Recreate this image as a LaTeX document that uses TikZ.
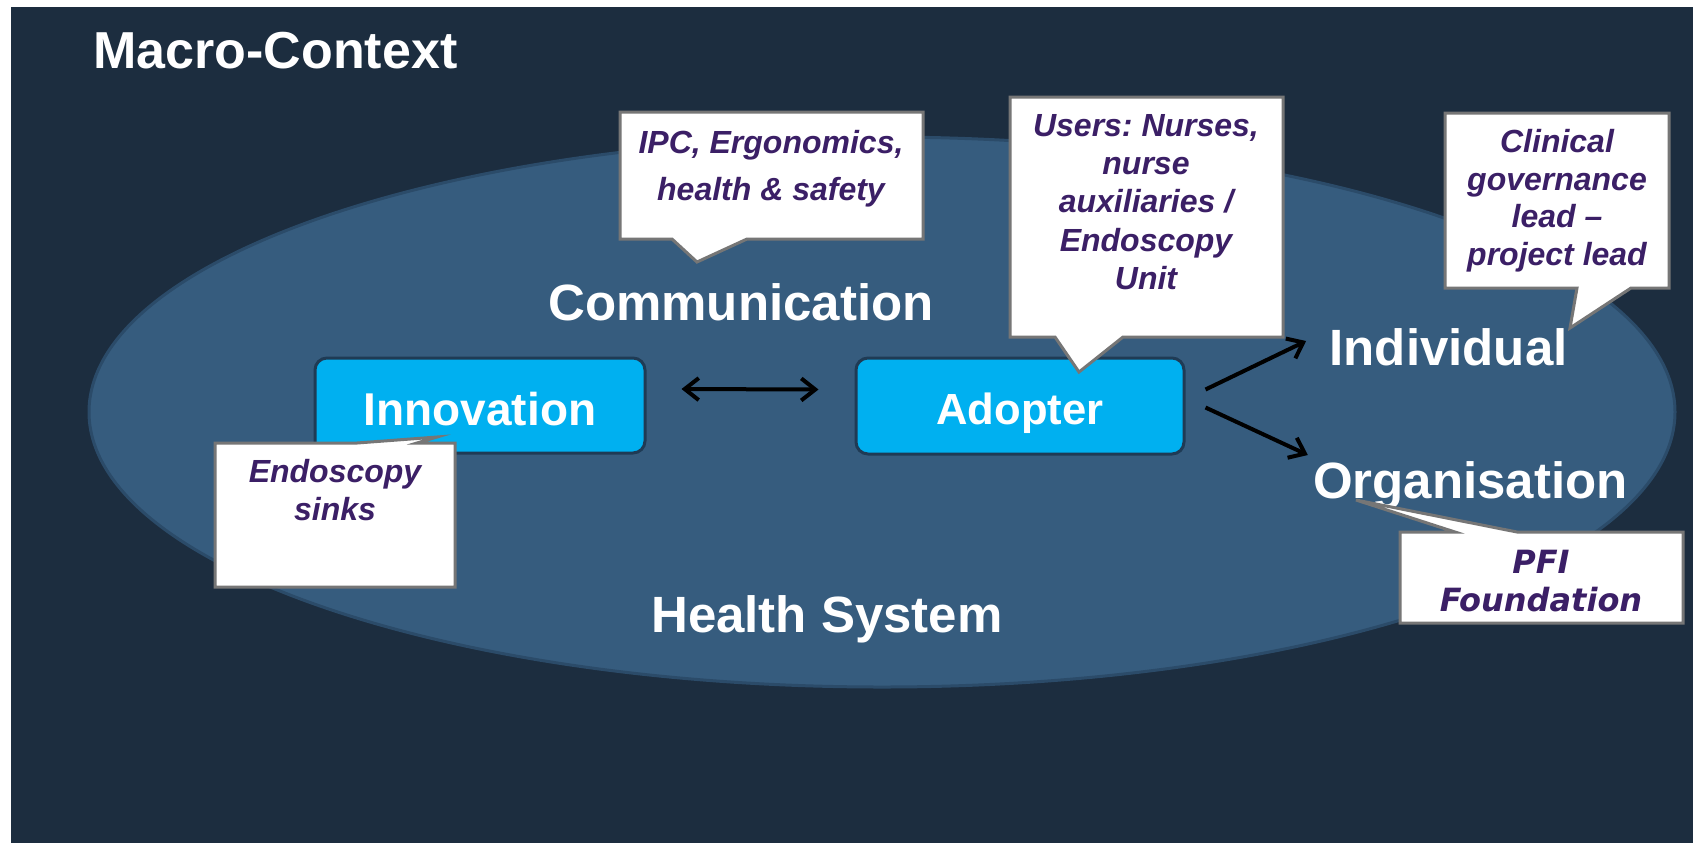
\documentclass[tikz,border=0pt]{standalone}
\usepackage{fontspec}
\setmainfont{Liberation Sans}
\newfontfamily\dejavu{DejaVu Sans}
\usetikzlibrary{arrows.meta}
\frenchspacing
\definecolor{bgdark}{HTML}{1C2D3F}
\definecolor{ellfill}{HTML}{365C7E}
\definecolor{ellrim}{HTML}{2B4B69}
\definecolor{cyanbox}{HTML}{00B0F0}
\definecolor{boxrim}{HTML}{1F3B55}
\definecolor{calltext}{HTML}{3B1F66}
\definecolor{callrim}{HTML}{767676}
\begin{document}
\begin{tikzpicture}[x=0.5pt,y=-0.5pt,
  biglabel/.style={text=white, font=\fontsize{25.5pt}{30pt}\selectfont\bfseries, inner sep=0pt, anchor=base},
  agentbox/.style={draw=boxrim, line width=1.5pt, fill=cyanbox, rounded corners=6pt, minimum width=165pt, minimum height=47.5pt, text=white, inner sep=0pt, text depth=0pt},
  calloutbox/.style={draw=callrim, fill=white, line width=1.5pt, line join=miter},
  callouttext/.style={text=calltext, font=\fontsize{16pt}{19.1pt}\selectfont\bfseries\itshape, align=center, inner sep=0pt, anchor=north},
  arrline/.style={line width=2pt, >={Straight Barb[length=7pt,width=11pt]}},
]
% page and background
\fill[white] (0,0) rectangle (1693,843);
\useasboundingbox (0,0) rectangle (1693,843);
\fill[bgdark] (11,7) rectangle (1693,843);
% health system ellipse
\path[fill=ellfill, draw=ellrim, line width=1.5pt] (882,412) ellipse [x radius=396.5pt, y radius=137.5pt];

% labels
\node[biglabel, anchor=base west, font=\fontsize{26pt}{30pt}\selectfont\bfseries] (macro) at (93,68) {Macro-Context};
\node[biglabel] (comm) at (741,320) {Communication};
\node[biglabel] (indiv) at (1448.5,365) {Individual};
\node[biglabel] (organ) at (1470.5,498) {Organisation};
\node[biglabel] (health) at (827,632) {Health System};

% boxes
\node[agentbox, text height=19.5pt, font=\fontsize{23pt}{27pt}\selectfont\bfseries] (inno) at (480,405.5) {Innovation};
\node[agentbox, text height=18pt, minimum width=164pt, minimum height=48pt, font=\fontsize{21.8pt}{26pt}\selectfont\bfseries] (adopt) at (1020,406) {Adopter};

% connectors
\draw[arrline, <->] ([shift={(17.5pt,8.25pt)}]inno.east) -- ([shift={(-18pt,8.25pt)}]adopt.west);
\draw[arrline, ->] ([shift={(10pt,8.25pt)}]adopt.east) -- ([shift={(-11.5pt,12pt)}]indiv.base west);
\draw[arrline, ->] ([shift={(10pt,-0.75pt)}]adopt.east) -- ([shift={(-2.5pt,21.5pt)}]organ.base west);

% callouts
\coordinate (ipctip) at (697,262);
\draw[calloutbox] (620,112) -- (923,112) -- (923,239) -- (747,239) -- (ipctip) -- (672,239) -- (620,239) -- cycle;
\node[callouttext, font=\fontsize{16pt}{23.5pt}\selectfont\bfseries\itshape] (ipc) at (771,130) {IPC, Ergonomics,\\health \& safety};

\coordinate (usertip) at (1079,372);
\draw[calloutbox] (1010,97) -- (1283,97) -- (1283,337) -- (1123,337) -- (usertip) -- (1055,337) -- (1010,337) -- cycle;
\node[callouttext] (users) at (1146,114) {Users: Nurses,\\nurse\\auxiliaries /\\Endoscopy\\Unit};

\coordinate (clintip) at (1570,328);
\draw[calloutbox] (1445,113) -- (1669,113) -- (1669,288) -- (1631,288) -- (clintip) -- (1577,288) -- (1445,288) -- cycle;
\node[callouttext, font=\fontsize{16pt}{18.85pt}\selectfont\bfseries\itshape] (clin) at (1557,129) {Clinical\\governance\\lead --\\project lead};

\coordinate (sinktip) at (437,437);
\draw[calloutbox] (215,443) -- (357,443) -- (sinktip) -- (417,443) -- (455,443) -- (455,587) -- (215,587) -- cycle;
\node[callouttext] (sinks) at (335,459) {Endoscopy\\sinks};

\coordinate (pfitip) at (1356,500);
\draw[calloutbox] (1400,532) -- (1455,532) -- (pfitip) -- (1517,532) -- (1683,532) -- (1683,623) -- (1400,623) -- cycle;
\node[callouttext, font=\dejavu\fontsize{16pt}{19pt}\selectfont\bfseries\itshape] (pfi) at (1541,550) {PFI\\Foundation};
\end{tikzpicture}
\end{document}
